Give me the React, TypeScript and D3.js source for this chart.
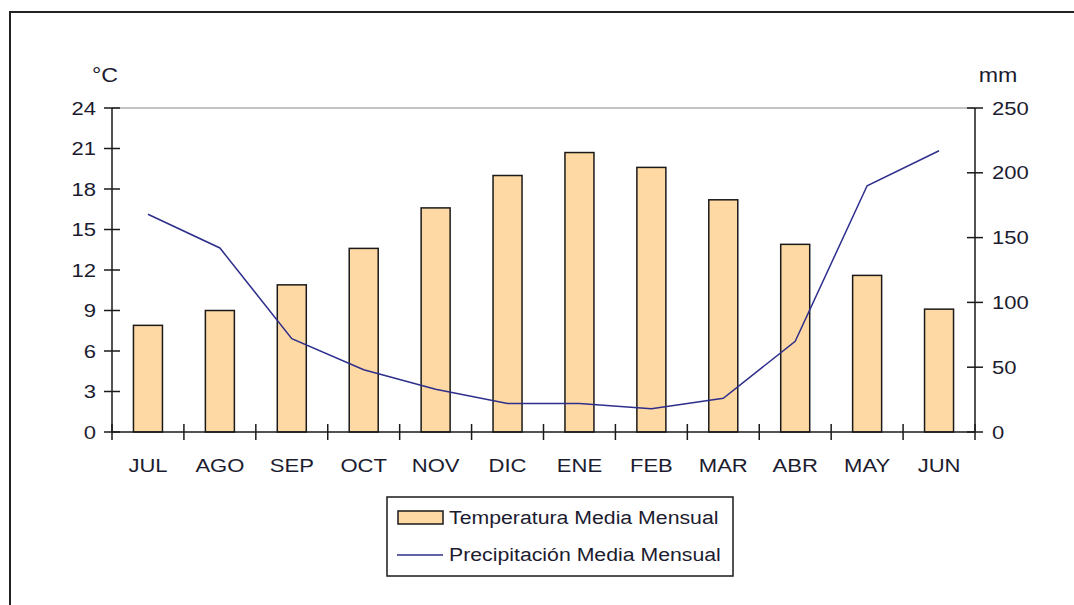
import React from "react";
import * as d3 from "d3";

const months = ["JUL","AGO","SEP","OCT","NOV","DIC","ENE","FEB","MAR","ABR","MAY","JUN"];
const temperature = [7.9, 9.0, 10.9, 13.6, 16.6, 19.0, 20.7, 19.6, 17.2, 13.9, 11.6, 9.1];
const precipitation = [168, 142, 72, 48, 33, 22, 22, 18, 26, 70, 190, 217];
const tempTicks = [0, 3, 6, 9, 12, 15, 18, 21, 24];
const precTicks = [0, 50, 100, 150, 200, 250];

const W = 1074, H = 605;
const left = 112, right = 975, top = 108, bottom = 432;
const font = "'Liberation Sans', Arial, sans-serif";
const textColor = "#1c1c30";

function T(props: { x: number; y: number; anchor?: string; size?: number; sx?: number; dy?: string; children: any }) {
  const { x, y, anchor = "start", size = 19, sx = 1.16, dy, children } = props;
  return (
    <text transform={`translate(${x},${y}) scale(${sx},1)`} dy={dy} textAnchor={anchor}
      fontFamily={font} fontSize={size} fill={textColor}>{children}</text>
  );
}

export default function App() {
  const x = d3.scaleBand().domain(months).range([left, right]).paddingInner(0).paddingOuter(0);
  const yT = d3.scaleLinear().domain([0, 24]).range([bottom, top]);
  const yP = d3.scaleLinear().domain([0, 250]).range([bottom, top]);
  const bw = 29;
  const line = d3.line<number>()
    .x((_, i) => (x(months[i]) as number) + x.bandwidth() / 2)
    .y((d) => yP(d));
  const xTickPos = months.map((m) => x(m) as number).concat([right]);

  return (
    <svg width={W} height={H} style={{ position: "absolute", left: 0, top: 0, background: "#fff" }}>
      <rect x={0} y={0} width={W} height={H} fill="#fff" />
      <path d={`M10,${H + 5} L10,12 L${W + 5},12`} fill="none" stroke="#222" strokeWidth={2} />
      <line x1={left} x2={right} y1={top} y2={top} stroke="#888" strokeWidth={1} />
      {temperature.map((v, i) => {
        const cx = (x(months[i]) as number) + x.bandwidth() / 2;
        return (
          <rect key={months[i]} x={cx - bw / 2} y={yT(v)} width={bw} height={bottom - yT(v)}
            fill="#FFD9A3" stroke="#1a1a1a" strokeWidth={1.5} />
        );
      })}
      <path d={line(precipitation) || ""} fill="none" stroke="#2E2E8C" strokeWidth={1.5} />
      <line x1={left} x2={left} y1={top} y2={bottom} stroke="#1a1a1a" strokeWidth={1.5} />
      {tempTicks.map((t) => (
        <g key={"lt" + t}>
          <line x1={left - 8} x2={left + 8} y1={yT(t)} y2={yT(t)} stroke="#1a1a1a" strokeWidth={1.5} />
          <T x={left - 16} y={yT(t)} dy="0.35em" anchor="end">{t}</T>
        </g>
      ))}
      <line x1={right} x2={right} y1={top} y2={bottom} stroke="#1a1a1a" strokeWidth={1.5} />
      {precTicks.map((t) => (
        <g key={"rt" + t}>
          <line x1={right - 8} x2={right + 8} y1={yP(t)} y2={yP(t)} stroke="#1a1a1a" strokeWidth={1.5} />
          <T x={right + 17} y={yP(t)} dy="0.35em">{t}</T>
        </g>
      ))}
      <line x1={left} x2={right} y1={bottom} y2={bottom} stroke="#1a1a1a" strokeWidth={1.5} />
      {xTickPos.map((p, i) => (
        <line key={"xt" + i} x1={p} x2={p} y1={bottom - 8} y2={bottom + 8} stroke="#1a1a1a" strokeWidth={1.5} />
      ))}
      {months.map((m) => (
        <T key={"xl" + m} x={(x(m) as number) + x.bandwidth() / 2} y={472} anchor="middle">{m}</T>
      ))}
      <T x={118} y={82} anchor="end" size={20}>°C</T>
      <T x={998} y={82} anchor="middle" size={20}>mm</T>
      <rect x={387} y={497} width={346} height={79} fill="#fff" stroke="#1a1a1a" strokeWidth={1.5} />
      <rect x={398} y={511} width={45} height={13} fill="#FFD9A3" stroke="#1a1a1a" strokeWidth={1.5} />
      <T x={449} y={524} sx={1.12}>Temperatura Media Mensual</T>
      <line x1={397} x2={443} y1={555} y2={555} stroke="#2E2E8C" strokeWidth={1.5} />
      <T x={449} y={561} sx={1.12}>Precipitación Media Mensual</T>
    </svg>
  );
}
